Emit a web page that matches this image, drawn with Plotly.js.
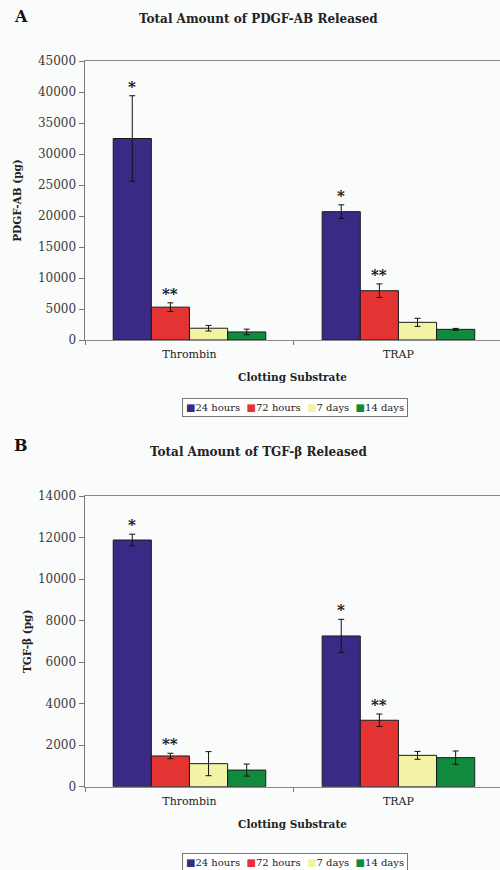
<!DOCTYPE html>
<html><head><meta charset="utf-8">
<script src="https://cdn.plot.ly/plotly-3.0.1.min.js"></script>
<style>html,body{margin:0;padding:0;background:#fafcfc}</style>
</head><body><div id="chart" style="width:500px;height:870px"></div>
<script>
// ---- data ----
const categories = ['Thrombin', 'TRAP'];
const seriesNames = ['24 hours', '72 hours', '7 days', '14 days'];
const seriesColors = ['#3a2a86', '#e43333', '#f3f3a6', '#108a3d'];
const pdgfValues = [[32500, 20700], [5300, 7950], [1900, 2850], [1300, 1720]];
const pdgfErrors = [[6900, 1100], [700, 1100], [450, 650], [450, 150]];
const tgfValues = [[11880, 7260], [1480, 3200], [1110, 1510], [800, 1400]];
const tgfErrors = [[280, 800], [130, 300], [580, 190], [290, 320]];
const sigMarks = ['*', '**', '', ''];
const pdgfTicks = [0, 5000, 10000, 15000, 20000, 25000, 30000, 35000, 40000, 45000];
const tgfTicks = [0, 2000, 4000, 6000, 8000, 10000, 12000, 14000];

const serif = 'DejaVu Serif, Liberation Serif, serif';
const bargap = 0.27;
const traces = [];
const annotations = [];

function addPanel(values, errors, xa, ya, xref, yref) {
  seriesNames.forEach((name, i) => {
    traces.push({
      type: 'bar', name: name, x: categories, y: values[i],
      xaxis: xa, yaxis: ya, showlegend: false,
      marker: {color: seriesColors[i], line: {color: '#1a1a1a', width: 1}},
      error_y: {type: 'data', array: errors[i], color: '#111', thickness: 1, width: 3}
    });
    if (sigMarks[i]) {
      const bw = (1 - bargap) / seriesNames.length;
      const off = -(1 - bargap) / 2 + bw * (i + 0.5);
      categories.forEach((c, j) => {
        annotations.push({
          xref: xref, yref: yref, x: j + off, y: values[i][j] + errors[i][j],
          text: sigMarks[i], showarrow: false, yanchor: 'bottom', yshift: -2,
          font: {family: serif, size: 15, color: '#111', weight: 'bold'}
        });
      });
    }
  });
}
addPanel(pdgfValues, pdgfErrors, 'x', 'y', 'x', 'y');
addPanel(tgfValues, tgfErrors, 'x2', 'y2', 'x2', 'y2');

function legendText() {
  return seriesNames.map((n, i) =>
    '<span style="color:' + seriesColors[i] + '">■</span>' + n).join('&nbsp;&nbsp;');
}
annotations.push(
  {xref: 'paper', yref: 'paper', x: 0.024, y: (870 - 17) / 870, text: '<b>A</b>', showarrow: false,
   xanchor: 'left', yanchor: 'middle', font: {family: serif, size: 16, color: '#111'}},
  {xref: 'paper', yref: 'paper', x: 0.516, y: (870 - 19) / 870, text: '<b>Total Amount of PDGF-AB Released</b>',
   showarrow: false, yanchor: 'middle', font: {family: serif, size: 12, color: '#222'}},
  {xref: 'paper', yref: 'paper', x: 0.59, y: (870 - 407) / 870, text: legendText(), showarrow: false,
   yanchor: 'middle', bordercolor: '#777', borderwidth: 1, borderpad: 3, bgcolor: '#ffffff',
   font: {family: serif, size: 10, color: '#222'}},
  {xref: 'paper', yref: 'paper', x: 0.024, y: (870 - 445) / 870, text: '<b>B</b>', showarrow: false,
   xanchor: 'left', yanchor: 'middle', font: {family: serif, size: 16, color: '#111'}},
  {xref: 'paper', yref: 'paper', x: 0.516, y: (870 - 452) / 870, text: '<b>Total Amount of TGF-β Released</b>',
   showarrow: false, yanchor: 'middle', font: {family: serif, size: 12, color: '#222'}},
  {xref: 'paper', yref: 'paper', x: 0.59, y: (870 - 862) / 870, text: legendText(), showarrow: false,
   yanchor: 'middle', bordercolor: '#777', borderwidth: 1, borderpad: 3, bgcolor: '#ffffff',
   font: {family: serif, size: 10, color: '#222'}}
);

function xAxis(domainY) {
  return {
    type: 'category', domain: [85 / 500, 1], range: [-0.5, 1.486], anchor: domainY,
    showline: true, mirror: true, linecolor: '#8a8a8a', linewidth: 1,
    ticks: 'outside', tickson: 'boundaries', ticklen: 4, tickcolor: '#777',
    ticklabelstandoff: 4,
    showgrid: false, zeroline: false,
    tickfont: {family: serif, size: 11, color: '#222'},
    title: {text: '<b>Clotting Substrate</b>', font: {family: serif, size: 10.5, color: '#222'}, standoff: 13}
  };
}
function yAxis(domain, ticks, title, standoff, anchorX) {
  return {
    domain: domain, range: [0, ticks[ticks.length - 1]], anchor: anchorX,
    tickvals: ticks, ticktext: ticks.map(String),
    showline: true, linecolor: '#7a7a7a', linewidth: 1.5,
    ticks: 'outside', ticklen: 5, tickcolor: '#777',
    showgrid: false, zeroline: false,
    tickfont: {family: serif, size: 12, color: '#3a3a3a'},
    title: {text: '<b>' + title + '</b>', font: {family: serif, size: 10.5, color: '#222'}, standoff: standoff}
  };
}

const layout = {
  width: 500, height: 870,
  margin: {l: 0, r: 0, t: 0, b: 0},
  paper_bgcolor: '#fafcfc', plot_bgcolor: '#fafcfc',
  barmode: 'group', bargap: bargap, bargroupgap: 0,
  xaxis: xAxis('y'),
  yaxis: yAxis([(870 - 340) / 870, (870 - 61) / 870], pdgfTicks, 'PDGF-AB (pg)', 14, 'x'),
  xaxis2: xAxis('y2'),
  yaxis2: yAxis([(870 - 786.7) / 870, (870 - 496) / 870], tgfTicks, 'TGF-β (pg)', 4, 'x2'),
  annotations: annotations
};
Plotly.newPlot('chart', traces, layout, {displayModeBar: false, staticPlot: true});
</script></body></html>
